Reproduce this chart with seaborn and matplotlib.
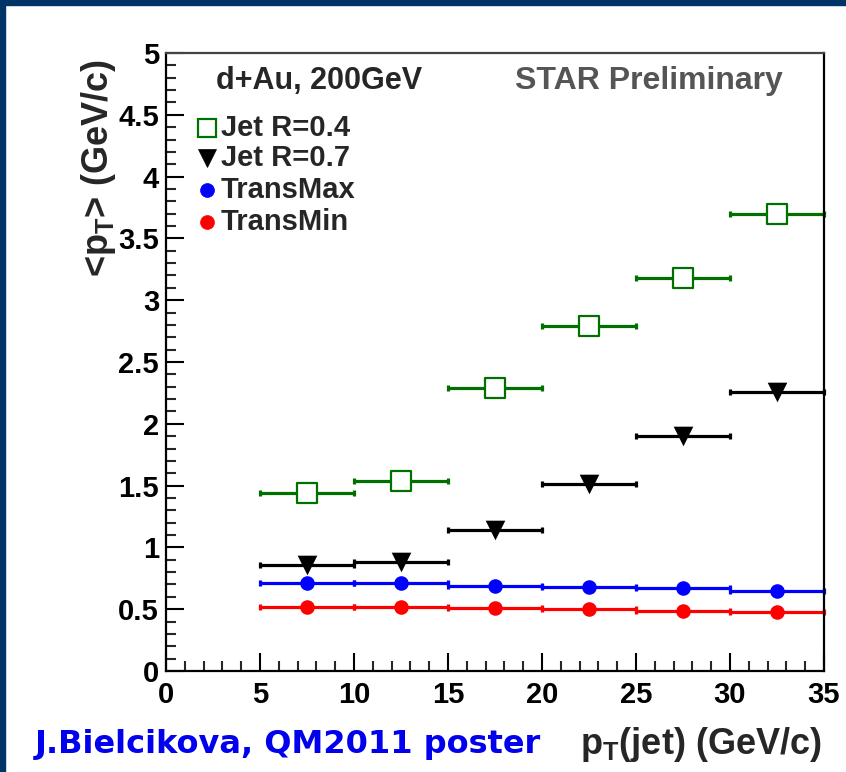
import numpy as np
import pandas as pd
import matplotlib
matplotlib.use("Agg")
import matplotlib.pyplot as plt
from matplotlib.patches import Rectangle
import seaborn as sns

# jet pT bins (GeV/c): centres and half-widths
bin_centers = [7.5, 12.5, 17.5, 22.5, 27.5, 32.5]
bin_half_width = [2.5, 2.5, 2.5, 2.5, 2.5, 2.5]

# mean track pT (GeV/c) per bin
jet_r04 = [1.44, 1.54, 2.29, 2.79, 3.18, 3.70]
jet_r07 = [0.86, 0.88, 1.14, 1.51, 1.90, 2.26]
trans_max = [0.71, 0.71, 0.69, 0.68, 0.67, 0.65]
trans_min = [0.52, 0.52, 0.51, 0.50, 0.485, 0.48]

series_names = ["Jet R=0.4", "Jet R=0.7", "TransMax", "TransMin"]

sns.set_theme(style="ticks")
plt.rcParams["font.family"] = ["Liberation Sans", "DejaVu Sans"]
plt.rcParams["font.weight"] = "bold"
plt.rcParams["mathtext.fontset"] = "custom"
plt.rcParams["mathtext.rm"] = "Liberation Sans:bold"
plt.rcParams["mathtext.bf"] = "Liberation Sans:bold"
plt.rcParams["mathtext.it"] = "Liberation Sans:bold"

W, H = 846, 772
fig = plt.figure(figsize=(W / 100, H / 100), dpi=100)
fig.patch.set_facecolor("white")

# navy frame along the top and left edges
navy = "#003366"
fig.add_artist(Rectangle((0, 1 - 5 / H), 1, 5 / H, transform=fig.transFigure,
                         color=navy, zorder=10))
fig.add_artist(Rectangle((0, 0), 5 / W, 1, transform=fig.transFigure,
                         color=navy, zorder=10))

left, right, top, bottom = 166, 824, 53, 671
ax = fig.add_axes([left / W, 1 - bottom / H, (right - left) / W, (bottom - top) / H])

df = pd.DataFrame({
    "pt": bin_centers * 4,
    "xerr": bin_half_width * 4,
    "mean_pt": jet_r04 + jet_r07 + trans_max + trans_min,
    "series": np.repeat(series_names, len(bin_centers)),
})

styles = {
    "Jet R=0.4": dict(color="#007000", marker="s", size=190, face="white", lw=1.6),
    "Jet R=0.7": dict(color="black", marker="v", size=200, face="black", lw=0),
    "TransMax": dict(color="#0000ff", marker="o", size=110, face="#0000ff", lw=0),
    "TransMin": dict(color="#ff0000", marker="o", size=110, face="#ff0000", lw=0),
}

for name in series_names:
    sub = df[df["series"] == name]
    st = styles[name]
    ax.errorbar(sub["pt"], sub["mean_pt"], xerr=sub["xerr"], fmt="none",
                ecolor=st["color"], elinewidth=2.3, capsize=2.5, capthick=2.3,
                zorder=2, clip_on=False)
    sns.scatterplot(data=sub, x="pt", y="mean_pt", ax=ax, marker=st["marker"],
                    s=st["size"], color=st["face"], edgecolor=st["color"],
                    linewidth=st["lw"], zorder=3, clip_on=False, legend=False)

ax.set_xlim(0, 35)
ax.set_ylim(0, 5)
ax.set_xticks(np.arange(0, 36, 5))
ax.set_xticks(np.arange(0, 36, 1), minor=True)
ax.set_yticks(np.arange(0, 5.01, 0.5))
ax.set_yticks(np.arange(0, 5.01, 0.1), minor=True)
ax.set_xticklabels([f"{v:g}" for v in np.arange(0, 36, 5)])
ax.set_yticklabels([f"{v:g}" for v in np.arange(0, 5.01, 0.5)])
ax.tick_params(axis="both", which="major", direction="in", length=13, width=1.5,
               labelsize=21, colors="black", pad=5)
ax.tick_params(axis="both", which="minor", direction="in", length=7, width=1.5)
ax.tick_params(axis="x", which="major", pad=7)
for lab in ax.get_xticklabels() + ax.get_yticklabels():
    lab.set_fontweight("bold")
for sp in ax.spines.values():
    sp.set_linewidth(1.6)
    sp.set_color("black")
ax.spines["top"].set_color("#444444")
ax.set_xlabel("")
ax.set_ylabel("")

# axis titles
fig.text(98 / W, 1 - 168 / H, r"<p$_{\mathrm{T}}$> (GeV/c)", rotation=90,
         ha="center", va="center", fontsize=26, fontweight="bold")
fig.text(822 / W, 1 - 744 / H, r"p$_{\mathrm{T}}$(jet) (GeV/c)",
         ha="right", va="center", fontsize=26, fontweight="bold")
fig.text(35 / W, 1 - 745 / H, "J.Bielcikova, QM2011 poster", ha="left",
         va="center", fontsize=23, fontweight="bold", color="#0000ee",
         family="DejaVu Sans")

# annotations inside the frame
ax.text((216 - left) / (right - left), 0.955, "d+Au, 200GeV", transform=ax.transAxes,
        ha="left", va="center", fontsize=22, fontweight="bold")
ax.text((783 - left) / (right - left), 0.955, "STAR Preliminary", transform=ax.transAxes,
        ha="right", va="center", fontsize=23, fontweight="bold", color="#555555")

# legend
leg_y = [128, 158, 190, 222]
for name, yp in zip(series_names, leg_y):
    st = styles[name]
    ms = {"s": 13, "v": 13, "o": 10}[st["marker"]]
    ax.plot([(207 - left) / (right - left)], [1 - (yp - top) / (bottom - top)],
            transform=ax.transAxes, marker=st["marker"], ms=ms, ls="none",
            mfc=st["face"], mec=st["color"], mew=max(st["lw"], 0.5), clip_on=False)
    ax.text((221 - left) / (right - left), 1 - (yp - top) / (bottom - top), name,
            transform=ax.transAxes, ha="left", va="center", fontsize=21,
            fontweight="bold")

fig.savefig("out.png", dpi=100, facecolor="white")
